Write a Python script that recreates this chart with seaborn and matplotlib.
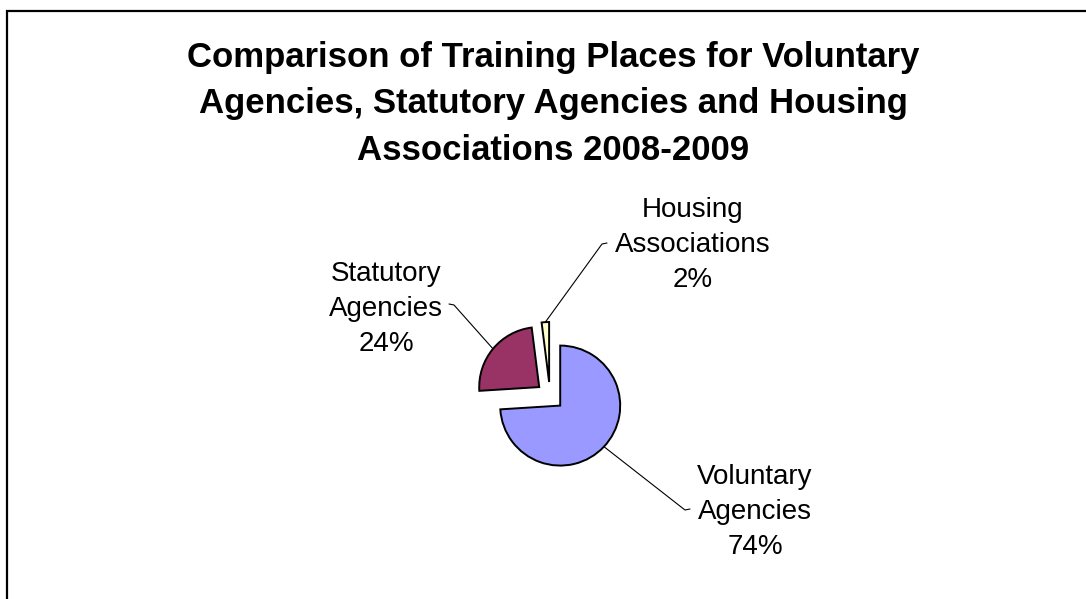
import matplotlib
matplotlib.use("Agg")
import numpy as np
import matplotlib.pyplot as plt
import seaborn as sns
from matplotlib.patches import Rectangle

# ---- data ----
categories = ["Voluntary\nAgencies", "Statutory\nAgencies", "Housing\nAssociations"]
shares = [74, 24, 2]
colors = ["#9999FF", "#993366", "#FFFFCC"]
title = ("Comparison of Training Places for Voluntary\n"
         "Agencies, Statutory Agencies and Housing\n"
         "Associations 2008-2009")

sns.set_theme(style="white")
plt.rcParams["font.family"] = ["Liberation Sans", "DejaVu Sans"]

W, H = 1086, 599
fig = plt.figure(figsize=(W / 100, H / 100), dpi=100)
ax = fig.add_axes([0, 0, 1, 1])


def img(x, y):
    """image pixel coords -> axes data coords (y up)."""
    return (x, H - y)


R = 60
wedges, _ = ax.pie(shares, colors=colors, startangle=90, counterclock=False,
                   explode=[14] * len(shares), radius=R,
                   center=img(550, 396),
                   wedgeprops=dict(edgecolor="black", linewidth=1.4))
ax.set_xlim(0, W)
ax.set_ylim(0, H)
ax.set_aspect("equal")
ax.axis("off")

# label layout (image coords): text centre, leader start, tick direction
label_pos = [(755, 512), (386, 309), (693, 245)]
leader_start = [(690, 509), (449, 304), (607, 243)]
tick_dir = [-1, 1, -1]

for w, cat, val, tp, ls, td in zip(wedges, categories, shares, label_pos,
                                   leader_start, tick_dir):
    ax.text(*img(*tp), f"{cat}\n{val}%", ha="center", va="center",
            fontsize=20, color="black", linespacing=1.44)
    mid = np.deg2rad((w.theta1 + w.theta2) / 2)
    cx, cy = w.center
    ex, ey = cx + w.r * np.cos(mid), cy + w.r * np.sin(mid)
    sx, sy = img(*ls)
    ax.plot([sx, sx + td * 5, ex], [sy, sy - 1, ey], color="black", lw=0.8)

ax.text(*img(553, 104), title, ha="center", va="center", fontsize=25,
        fontweight="bold", color="black", linespacing=1.52)

# chart-area border (only left/top edges visible)
ax.add_patch(Rectangle(img(7, 11 + 700), 2000, 700, fill=False,
                       edgecolor="black", linewidth=1.6, clip_on=False))

fig.savefig("out.png", dpi=100)
